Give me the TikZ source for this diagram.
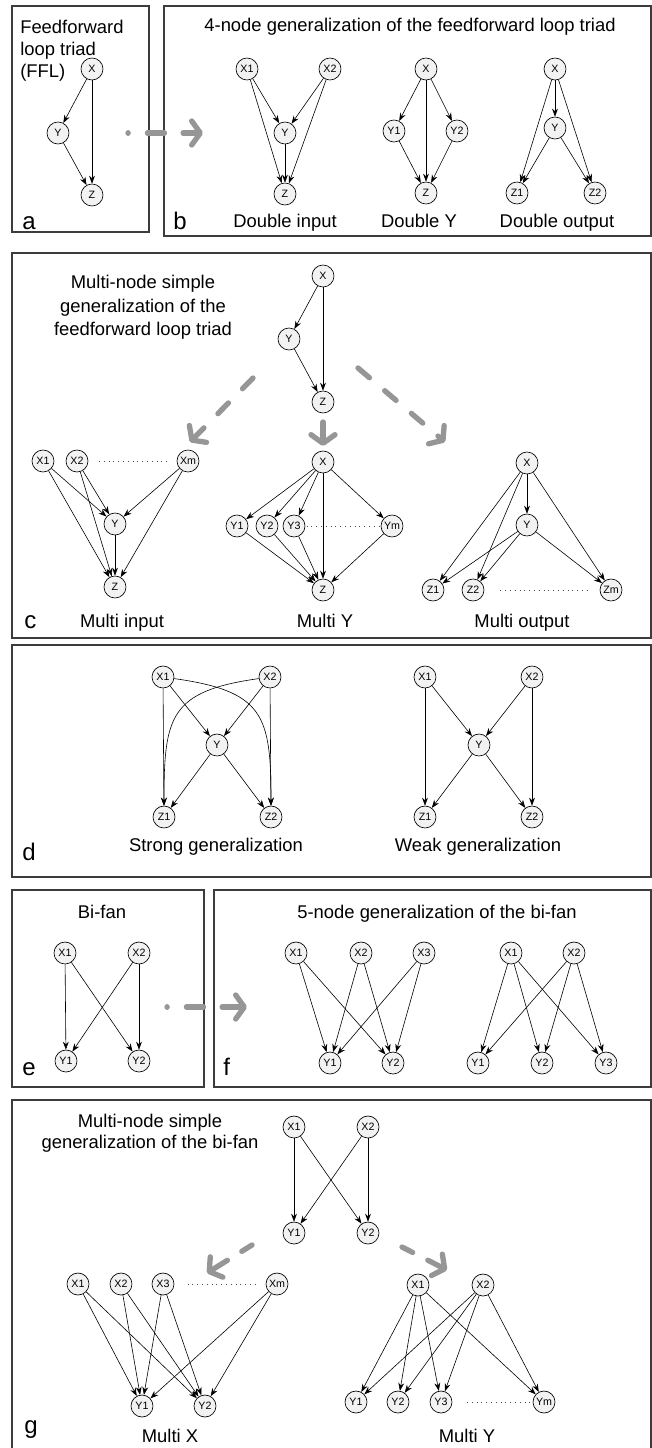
\documentclass[tikz,border=0pt]{standalone}
\usepackage{fontspec}
\setmainfont{Liberation Sans}
\usetikzlibrary{arrows.meta}
\definecolor{nodefill}{RGB}{242,242,242}
\definecolor{arrowgray}{RGB}{150,150,150}
\definecolor{boxline}{RGB}{60,60,60}
\tikzstyle{motif}    = [draw=black, circle, fill=nodefill, minimum size=16.5pt, inner sep=0pt, line width=0.5pt, font=\fontsize{8}{8}\selectfont]
\tikzstyle{link}     = [-{Stealth[length=6pt,width=4.4pt]}, line width=0.45pt]
\tikzstyle{panel}    = [draw=boxline, line width=0.9pt]
\tikzstyle{caption}  = [anchor=base, inner sep=0pt, font=\fontsize{13.8}{16.5}\selectfont]
\tikzstyle{plabel}   = [anchor=base west, inner sep=0pt, font=\fontsize{18}{20}\selectfont]
\tikzstyle{dots}     = [dash pattern=on 0.6pt off 3pt, line width=0.5pt, black!70]
\tikzstyle{genarrow} = [arrowgray, line width=4pt, line cap=round, -{Straight Barb[length=6.5pt,width=18pt,round]}]

\begin{document}
\begin{tikzpicture}[x=0.75pt, y=-0.75pt]
  \useasboundingbox (0,0) rectangle (652,1448);

  % panel frames
  \draw[panel] (12,6) rectangle (149,232);
  \draw[panel] (164,6) rectangle (651,236);
  \draw[panel] (12,253) rectangle (651,638);
  \draw[panel] (12,645) rectangle (651,877);
  \draw[panel] (12,890) rectangle (204,1087);
  \draw[panel] (214,890) rectangle (651,1087);
  \draw[panel] (12,1100) rectangle (651,1452);

  % a: feedforward loop triad
  \node[anchor=north west, align=left, inner sep=0pt, font=\fontsize{13.8}{16.5}\selectfont] (a-title) at (20,20) {Feedforward\\loop triad\\(FFL)};
  \node[motif] (a-x) at (92,69) {X};
  \node[motif] (a-y) at (58,133) {Y};
  \node[motif] (a-z) at (92,195) {Z};
  \draw[link] (a-x) -- (a-y);
  \draw[link] (a-x) -- (a-z);
  \draw[link] (a-y) -- (a-z);
  \node[plabel] (a-lab) at (22,229) {a};

  \coordinate (ab-from) at (128,133);
  \coordinate (ab-to) at (203,133);
  \draw[genarrow, dash pattern=on 0.1pt off 14.5pt on 12.75pt off 14pt on 45pt] (ab-from) -- (ab-to);

  % b: 4-node generalization
  \node[caption] (b-title) at (410,32) {4-node generalization of the feedforward loop triad};
  \node[plabel] (b-lab) at (173,229) {b};

  \node[motif] (di-x1) at (247,69) {X1};
  \node[motif] (di-x2) at (330,69) {X2};
  \node[motif] (di-y) at (285,133) {Y};
  \node[motif] (di-z) at (285,194) {Z};
  \draw[link] (di-x1) -- (di-y);
  \draw[link] (di-x1) -- (di-z);
  \draw[link] (di-x2) -- (di-y);
  \draw[link] (di-x2) -- (di-z);
  \draw[link] (di-y) -- (di-z);
  \node[caption] (di-cap) at (285,228) {Double input};

  \node[motif] (dy-x) at (426,69) {X};
  \node[motif] (dy-y1) at (394,131) {Y1};
  \node[motif] (dy-y2) at (457,131) {Y2};
  \node[motif] (dy-z) at (426,193) {Z};
  \draw[link] (dy-x) -- (dy-y1);
  \draw[link] (dy-x) -- (dy-y2);
  \draw[link] (dy-x) -- (dy-z);
  \draw[link] (dy-y1) -- (dy-z);
  \draw[link] (dy-y2) -- (dy-z);
  \node[caption] (dy-cap) at (419,228) {Double Y};

  \node[motif] (do-x) at (555,69) {X};
  \node[motif] (do-y) at (555,128) {Y};
  \node[motif] (do-z1) at (517,193) {Z1};
  \node[motif] (do-z2) at (595,193) {Z2};
  \draw[link] (do-x) -- (do-y);
  \draw[link] (do-x) -- (do-z1);
  \draw[link] (do-x) -- (do-z2);
  \draw[link] (do-y) -- (do-z1);
  \draw[link] (do-y) -- (do-z2);
  \node[caption] (do-cap) at (557,228) {Double output};

  % c: multi-node simple generalization of the FFL
  \node[anchor=north, align=center, inner sep=0pt, font=\fontsize{13.8}{17.6}\selectfont] (c-title) at (143,275) {Multi-node simple\\generalization of the\\feedforward loop triad};
  \node[motif] (c-x) at (323,276) {X};
  \node[motif] (c-y) at (289,339) {Y};
  \node[motif] (c-z) at (323,402) {Z};
  \draw[link] (c-x) -- (c-y);
  \draw[link] (c-x) -- (c-z);
  \draw[link] (c-y) -- (c-z);

  \coordinate (cl-from) at (253,378);
  \coordinate (cl-to) at (190,442);
  \coordinate (cm-from) at (323,422);
  \coordinate (cm-to) at (323,446);
  \coordinate (cr-from) at (358,368);
  \coordinate (cr-to) at (445,442);
  \draw[genarrow, dash pattern=on 11.25pt off 15pt] (cl-from) -- (cl-to);
  \draw[genarrow] (cm-from) -- (cm-to);
  \draw[genarrow, dash pattern=on 11.25pt off 15pt] (cr-from) -- (cr-to);

  \node[motif] (ci-x1) at (43,461) {X1};
  \node[motif] (ci-x2) at (77,461) {X2};
  \node[motif] (ci-xm) at (188,461) {Xm};
  \node[motif] (ci-y) at (115,524) {Y};
  \node[motif] (ci-z) at (115,587) {Z};
  \foreach \s in {ci-x1,ci-x2,ci-xm} {
    \draw[link] (\s) -- (ci-y);
    \draw[link] (\s) -- (ci-z);
  }
  \draw[link] (ci-y) -- (ci-z);
  \draw[dots, shorten <=8pt, shorten >=7pt] (ci-x2) -- (ci-xm);
  \node[caption] (ci-cap) at (122,627) {Multi input};

  \node[motif] (cy-x) at (323,462) {X};
  \node[motif] (cy-y1) at (237,526) {Y1};
  \node[motif] (cy-y2) at (267,526) {Y2};
  \node[motif] (cy-y3) at (294,526) {Y3};
  \node[motif] (cy-ym) at (392,526) {Ym};
  \node[motif] (cy-z) at (323,590) {Z};
  \foreach \t in {cy-y1,cy-y2,cy-y3,cy-ym} {
    \draw[link] (cy-x) -- (\t);
    \draw[link] (\t) -- (cy-z);
  }
  \draw[link] (cy-x) -- (cy-z);
  \draw[dots, shorten <=1pt, shorten >=1pt] (cy-y3) -- (cy-ym);
  \node[caption] (cy-cap) at (325,627) {Multi Y};

  \node[motif] (co-x) at (527,463) {X};
  \node[motif] (co-y) at (527,525) {Y};
  \node[motif] (co-z1) at (433,590) {Z1};
  \node[motif] (co-z2) at (473,590) {Z2};
  \node[motif] (co-zm) at (611,590) {Zm};
  \draw[link] (co-x) -- (co-y);
  \foreach \t in {co-z1,co-z2,co-zm} {
    \draw[link] (co-x) -- (\t);
    \draw[link] (co-y) -- (\t);
  }
  \draw[dots, shorten <=12pt, shorten >=7pt] (co-z2) -- (co-zm);
  \node[caption] (co-cap) at (522,627) {Multi output};
  \node[plabel] (c-lab) at (24,628) {c};

  % d: strong and weak generalization
  \node[motif] (ds-x1) at (163,677) {X1};
  \node[motif] (ds-x2) at (270,677) {X2};
  \node[motif] (ds-y) at (217,745) {Y};
  \node[motif] (ds-z1) at (164,817) {Z1};
  \node[motif] (ds-z2) at (271,817) {Z2};
  \draw[link] (ds-x1) -- (ds-z1);
  \draw[link] (ds-x1) -- (ds-y);
  \draw[link] (ds-x2) -- (ds-y);
  \draw[link] (ds-x2) -- (ds-z2);
  \draw[link] (ds-y) -- (ds-z1);
  \draw[link] (ds-y) -- (ds-z2);
  \draw[link] (ds-x1) to[out=-8, in=90, looseness=1.45] (ds-z2);
  \draw[link] (ds-x2) to[out=188, in=90, looseness=1.45] (ds-z1);
  \node[caption] (ds-cap) at (216,851) {Strong generalization};

  \node[motif] (dw-x1) at (425,677) {X1};
  \node[motif] (dw-x2) at (532,677) {X2};
  \node[motif] (dw-y) at (479,745) {Y};
  \node[motif] (dw-z1) at (425,817) {Z1};
  \node[motif] (dw-z2) at (532,817) {Z2};
  \draw[link] (dw-x1) -- (dw-z1);
  \draw[link] (dw-x1) -- (dw-y);
  \draw[link] (dw-x2) -- (dw-y);
  \draw[link] (dw-x2) -- (dw-z2);
  \draw[link] (dw-y) -- (dw-z1);
  \draw[link] (dw-y) -- (dw-z2);
  \node[caption] (dw-cap) at (478,851) {Weak generalization};
  \node[plabel] (d-lab) at (22,860) {d};

  % e: bi-fan
  \node[caption] (e-title) at (102,918) {Bi-fan};
  \node[motif] (e-x1) at (65,953) {X1};
  \node[motif] (e-x2) at (139,953) {X2};
  \node[motif] (e-y1) at (66,1061) {Y1};
  \node[motif] (e-y2) at (139,1061) {Y2};
  \foreach \s in {e-x1,e-x2}
    \foreach \t in {e-y1,e-y2}
      \draw[link] (\s) -- (\t);
  \node[plabel] (e-lab) at (22,1075) {e};

  \coordinate (ef-from) at (167,1007);
  \coordinate (ef-to) at (247,1007);
  \draw[genarrow, dash pattern=on 0.1pt off 14.5pt on 12.75pt off 14pt on 45pt] (ef-from) -- (ef-to);

  % f: 5-node generalization of the bi-fan
  \node[caption] (f-title) at (437,918) {5-node generalization of the bi-fan};
  \node[motif] (f1-x1) at (296,953) {X1};
  \node[motif] (f1-x2) at (361,953) {X2};
  \node[motif] (f1-x3) at (424,953) {X3};
  \node[motif] (f1-y1) at (330,1063) {Y1};
  \node[motif] (f1-y2) at (393,1063) {Y2};
  \foreach \s in {f1-x1,f1-x2,f1-x3}
    \foreach \t in {f1-y1,f1-y2}
      \draw[link] (\s) -- (\t);

  \node[motif] (f2-x1) at (511,953) {X1};
  \node[motif] (f2-x2) at (574,953) {X2};
  \node[motif] (f2-y1) at (478,1063) {Y1};
  \node[motif] (f2-y2) at (542,1063) {Y2};
  \node[motif] (f2-y3) at (606,1063) {Y3};
  \foreach \s in {f2-x1,f2-x2}
    \foreach \t in {f2-y1,f2-y2,f2-y3}
      \draw[link] (\s) -- (\t);
  \node[plabel] (f-lab) at (223,1075) {f};

  % g: multi-node simple generalization of the bi-fan
  \node[anchor=north, align=center, inner sep=0pt, font=\fontsize{13.8}{15.3}\selectfont] (g-title) at (150,1114) {Multi-node simple\\generalization of the bi-fan};
  \node[motif] (g-x1) at (294,1127) {X1};
  \node[motif] (g-x2) at (368,1127) {X2};
  \node[motif] (g-y1) at (294,1233) {Y1};
  \node[motif] (g-y2) at (368,1233) {Y2};
  \foreach \s in {g-x1,g-x2}
    \foreach \t in {g-y1,g-y2}
      \draw[link] (\s) -- (\t);

  \coordinate (gl-from) at (252,1245);
  \coordinate (gl-to) at (207,1273);
  \coordinate (gr-from) at (402,1247);
  \coordinate (gr-to) at (447,1270);
  \draw[genarrow, dash pattern=on 9pt off 12.75pt on 40pt] (gl-from) -- (gl-to);
  \draw[genarrow, dash pattern=on 9pt off 12.75pt on 40pt] (gr-from) -- (gr-to);

  \node[motif] (gx-x1) at (78,1284) {X1};
  \node[motif] (gx-x2) at (121,1284) {X2};
  \node[motif] (gx-x3) at (163,1284) {X3};
  \node[motif] (gx-xm) at (277,1284) {Xm};
  \node[motif] (gx-y1) at (142,1406) {Y1};
  \node[motif] (gx-y2) at (205,1406) {Y2};
  \foreach \s in {gx-x1,gx-x2,gx-x3,gx-xm}
    \foreach \t in {gx-y1,gx-y2}
      \draw[link] (\s) -- (\t);
  \draw[dots, shorten <=10pt, shorten >=6pt] (gx-x3) -- (gx-xm);
  \node[caption] (gx-cap) at (170,1442) {Multi X};

  \node[motif] (gy-x1) at (418,1285) {X1};
  \node[motif] (gy-x2) at (483,1285) {X2};
  \node[motif] (gy-y1) at (356,1402) {Y1};
  \node[motif] (gy-y2) at (398,1402) {Y2};
  \node[motif] (gy-y3) at (441,1402) {Y3};
  \node[motif] (gy-ym) at (544,1402) {Ym};
  \foreach \s in {gy-x1,gy-x2}
    \foreach \t in {gy-y1,gy-y2,gy-y3,gy-ym}
      \draw[link] (\s) -- (\t);
  \draw[dots, shorten <=11pt, shorten >=1pt] (gy-y3) -- (gy-ym);
  \node[caption] (gy-cap) at (467,1442) {Multi Y};
  \node[plabel] (g-lab) at (24,1433) {g};
\end{tikzpicture}
\end{document}
